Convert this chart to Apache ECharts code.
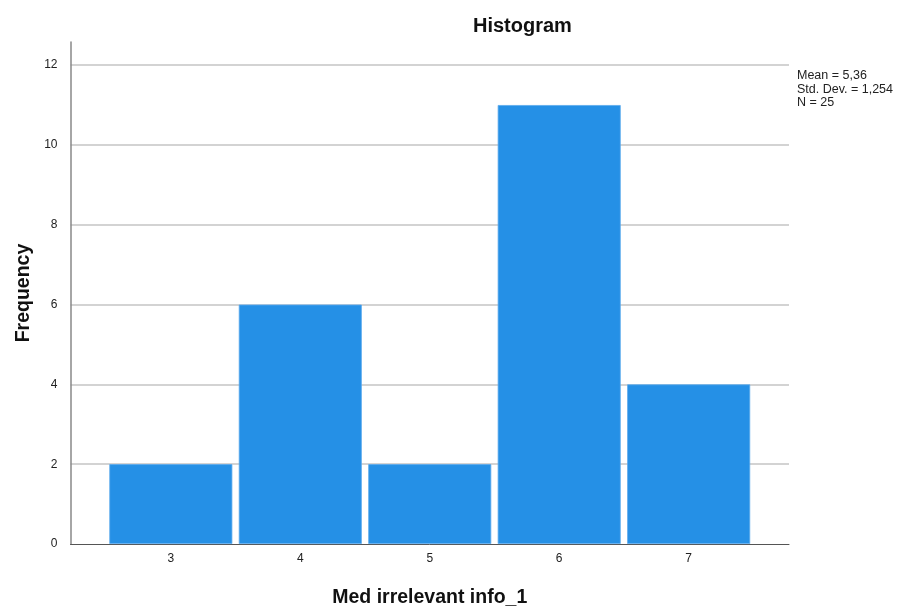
<!DOCTYPE html>
<html><head><meta charset="utf-8">
<script src="https://cdn.jsdelivr.net/npm/echarts@6/dist/echarts.min.js"></script>
<style>html,body{margin:0;padding:0;background:#fff}#c{width:905px;height:607px}</style>
</head><body><div id="c"></div>
<script>
const categories = [3, 4, 5, 6, 7];
const frequencies = [2, 6, 2, 11, 4];
const yTicks = [0, 2, 4, 6, 8, 10, 12];
const statsLines = ['Mean = 5,36', 'Std. Dev. = 1,254', 'N = 25'];

const chart = echarts.init(document.getElementById('c'), null, {renderer: 'canvas'});
const font = '"Liberation Sans", Arial, sans-serif';
chart.setOption({
  animation: false,
  backgroundColor: '#fff',
  textStyle: {fontFamily: font},
  title: [
    {text: 'Histogram', left: 468, top: 11,
     textStyle: {fontFamily: font, fontSize: 20, fontWeight: 'bold', color: '#111'}},
    {text: statsLines.join('\n'), left: 792, top: 64,
     textStyle: {fontFamily: font, fontSize: 12.5, fontWeight: 'normal', color: '#222', lineHeight: 13.5}}
  ],
  grid: {left: 70.5, right: 116, top: 42, bottom: 63, containLabel: false, outerBoundsMode: 'none'},
  xAxis: {
    type: 'value', min: 2.225, max: 7.775,
    name: 'Med irrelevant info_1', nameLocation: 'middle', nameGap: 44,
    nameTextStyle: {fontFamily: font, fontSize: 19.5, fontWeight: 'bold', color: '#111'},
    axisLine: {show: true, lineStyle: {color: '#555', width: 1}},
    axisTick: {show: false},
    splitLine: {show: false},
    axisLabel: {customValues: categories, color: '#222', fontSize: 12, margin: 9, fontFamily: font}
  },
  yAxis: {
    type: 'value', min: 0, max: 12.58, interval: 2,
    name: 'Frequency', nameLocation: 'middle', nameGap: 37, nameRotate: 90,
    nameTextStyle: {fontFamily: font, fontSize: 19.5, fontWeight: 'bold', color: '#111'},
    axisLine: {show: true, lineStyle: {color: '#888', width: 1.5}},
    axisTick: {show: false},
    splitLine: {show: true, showMaxLine: false, showMinLine: false, lineStyle: {color: '#c4c4c4', width: 1.5}},
    axisLabel: {customValues: yTicks, color: '#222', fontSize: 12, margin: 13, fontFamily: font}
  },
  series: [{
    type: 'bar',
    data: categories.map((c, i) => [c, frequencies[i]]),
    barWidth: 123,
    itemStyle: {color: '#2590e6', borderColor: '#5aa9ee', borderWidth: 0.8}
  }]
});
</script></body></html>
